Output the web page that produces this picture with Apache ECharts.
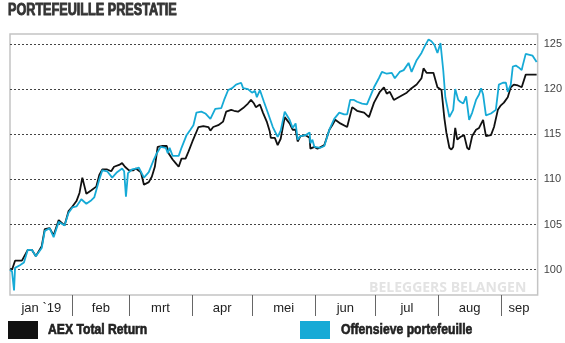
<!DOCTYPE html>
<html>
<head>
<meta charset="utf-8">
<script src="https://cdn.jsdelivr.net/npm/echarts@6/dist/echarts.min.js"></script>
<style>
html,body{margin:0;padding:0;background:#fff;}
#chart{width:565px;height:343px;}
</style>
</head>
<body>
<div id="chart"></div>
<script>
// x values: days since 1 Jan 2019
const monthNames = ['jan `19','feb','mrt','apr','mei','jun','jul','aug','sep'];
const monthStarts = [31,59,90,120,151,181,212,243];
const monthMids = [15.5,45,74.5,105,135.5,166,196.5,227.5,252];
const yTicks = [100,105,110,115,120,125];
const seriesNames = ['AEX Total Return','Offensieve portefeuille'];
const seriesColors = ['#111111','#16aad6'];

const aexDays = [0,1.0,2.5,5.9,8.8,10.8,12.8,15.7,17.2,19.6,21.6,24.1,27.0,29.0,30.9,32.9,34.4,35.8,37.8,40.3,42.7,44.2,45.7,48.1,50.1,51.5,54.0,55.5,56.9,58.9,60.9,62.3,64.8,66.3,68.7,70.2,71.7,73.1,75.6,77.6,78.5,80.5,82.0,83.5,84.9,86.9,88.4,90.3,91.8,93.3,95.7,98.2,99.2,100.6,103.1,105.5,107.0,109.5,110.9,112.9,115.4,117.8,119.3,120.8,121.7,123.7,125.2,127.1,128.6,129.1,131.1,132.5,134.0,136.0,138.4,139.9,141.4,142.4,143.8,146.3,148.3,148.7,150.7,152.2,155.6,158.1,159.5,161.0,163.5,166.9,169.4,171.8,175.3,177.7,180.2,183.1,185.1,186.5,188.0,190.0,192.4,196.4,198.8,201.3,203.7,204.7,206.2,209.6,211.6,213.6,215.0,216.0,217.5,218.5,219.4,220.4,221.4,222.9,224.8,226.3,227.3,228.8,230.7,232.2,234.2,235.6,238.1,239.6,241.5,243.0,244.5,246.4,247.9,249.4,251.4,253.3,255.3,257.7,260.7];
const aexValues = [100.1,100.0,101.0,101.0,102.2,102.2,101.5,102.6,104.5,104.6,103.8,105.5,104.9,106.5,107.0,107.6,108.5,110.2,108.4,108.8,109.2,110.5,111.1,111.1,110.9,111.4,111.6,111.8,111.4,111.0,111.0,111.2,110.8,109.4,109.7,110.3,111.4,113.6,113.7,113.7,112.9,112.2,111.8,111.4,112.3,112.3,113.1,114.2,115.0,115.8,115.9,115.8,115.4,115.8,116.0,116.4,117.5,117.7,117.6,117.5,117.9,118.4,118.8,118.4,118.0,118.3,117.4,116.4,115.3,114.6,114.6,113.8,114.5,116.9,116.2,115.5,115.5,114.2,114.8,114.9,114.6,113.4,113.6,113.4,113.8,115.5,116.0,116.6,116.2,115.8,118.0,117.6,117.4,116.9,118.5,119.7,120.2,119.5,119.7,118.8,119.1,119.6,120.1,120.5,121.2,122.3,121.8,121.8,120.2,119.9,116.8,115.2,113.5,113.3,113.6,115.7,114.4,114.7,114.9,113.5,113.3,114.8,115.5,115.7,116.6,114.8,114.9,115.8,117.7,118.2,118.5,119.1,120.2,120.5,120.4,120.2,121.6,121.6,121.6];

const offDays = [0,1.0,2.0,2.5,4.9,6.9,8.8,10.8,12.8,15.7,17.2,19.6,21.6,24.1,27.0,29.0,30.9,32.9,35.3,37.8,40.3,41.7,44.2,45.7,48.1,50.6,53.0,55.5,56.5,57.4,58.4,60.4,62.3,63.8,66.3,68.7,71.2,72.7,74.6,77.1,78.1,79.0,80.5,83.5,84.9,87.4,89.3,90.8,92.3,94.7,96.7,99.2,101.6,104.6,106.0,108.0,110.0,111.9,114.4,115.4,117.8,119.8,121.3,122.2,123.7,125.7,127.6,130.1,132.5,134.0,136.0,138.4,139.9,141.4,142.4,143.8,146.3,148.3,148.7,149.7,150.7,153.7,155.6,158.1,160.5,163.0,165.4,166.9,168.4,170.3,171.8,174.3,176.7,180.2,182.6,184.1,186.5,189.0,190.5,192.9,194.9,197.3,198.8,201.3,203.7,205.2,207.2,208.6,210.1,211.6,213.1,214.5,215.5,217.5,219.4,220.4,221.9,222.9,224.4,225.8,227.3,228.8,230.7,232.2,233.2,234.2,235.6,238.1,240.5,242.0,244.0,245.5,246.4,247.9,248.9,250.4,251.8,253.3,253.8,255.3,257.2,258.7,260.7];
const offValues = [100.0,99.8,97.7,100.2,100.5,100.8,102.2,102.2,101.5,102.4,104.3,104.6,103.6,105.3,104.9,106.3,106.9,107.0,107.8,107.3,107.7,108.0,110.0,111.0,110.9,110.2,110.8,111.2,110.9,108.1,110.7,111.1,111.2,111.3,110.2,110.8,112.2,112.9,113.6,113.5,112.9,113.5,112.6,112.6,113.5,114.9,115.5,116.0,117.4,117.5,117.3,116.7,117.8,117.9,118.8,119.9,120.1,120.5,120.7,120.1,120.0,119.6,119.8,119.1,119.9,118.6,117.4,115.8,114.7,115.4,117.5,116.6,115.7,116.2,114.4,114.8,114.9,115.2,114.0,114.4,113.6,113.5,113.7,115.5,116.7,117.4,117.2,117.2,118.8,118.8,118.6,118.4,118.3,120.2,121.2,121.9,121.7,121.8,121.2,121.9,122.1,122.9,121.9,123.2,124.0,124.7,125.5,125.3,124.9,124.0,125.1,122.0,119.1,116.9,117.7,120.0,118.8,118.6,118.4,119.2,116.6,117.4,118.8,119.4,120.1,119.4,117.1,117.3,117.7,120.5,120.7,120.7,119.7,120.5,122.5,122.6,122.4,122.1,122.6,123.9,123.8,123.7,123.0];

function zip(xs, ys){ return xs.map((x,i)=>[x, ys[i]]); }

const chart = echarts.init(document.getElementById('chart'), null, {renderer:'canvas'});
chart.setOption({
  animation:false,
  backgroundColor:'#ffffff',
  grid:{left:10, right:23, top:34, bottom:48, show:true, borderColor:'#c4c4c4', borderWidth:1.5, backgroundColor:'transparent'},
  xAxis:{
    type:'value', min:0, max:261.2,
    axisLine:{show:false},
    splitLine:{show:false},
    axisTick:{show:true, customValues:monthStarts, length:21, lineStyle:{color:'#666', width:1}},
    axisLabel:{customValues:monthMids, margin:7, fontSize:13, color:'#222',
      fontFamily:"'Liberation Sans',Arial,sans-serif",
      formatter:function(v){ const i = monthMids.indexOf(v); return i>=0 ? monthNames[i] : ''; }}
  },
  yAxis:{
    type:'value', position:'right', min:97.2, max:126.1,
    axisLine:{show:false},
    splitLine:{show:true, lineStyle:{color:'#444', type:[2,2], width:1}},
    axisTick:{show:true, customValues:yTicks, length:4, lineStyle:{color:'#444', type:[2,2]}},
    axisLabel:{customValues:yTicks, margin:6, fontSize:11, color:'#444', fontFamily:"'Liberation Sans',Arial,sans-serif"}
  },
  graphic:[
    {type:'text', x:8, y:11, scaleX:0.79, silent:true,
     style:{text:'PORTEFEUILLE PRESTATIE', fill:'#333333', stroke:'#333333', lineWidth:0.9, verticalAlign:'middle',
            font:"bold 16px 'Liberation Sans', Arial, sans-serif"}},
    {type:'text', left:369, top:281, silent:true, z:0,
     style:{text:'BELEGGERS BELANGEN', fill:'#e3e3e3', font:"bold 14px 'Open Sans', 'Liberation Sans', sans-serif"}},
    {type:'rect', shape:{x:8, y:321, width:30, height:18}, style:{fill:seriesColors[0]}, silent:true},
    {type:'text', x:48, y:330, scaleX:0.87, silent:true,
     style:{text:seriesNames[0], fill:'#222', stroke:'#222', lineWidth:0.6, verticalAlign:'middle', font:"bold 14px 'Liberation Sans', Arial, sans-serif"}},
    {type:'rect', shape:{x:300, y:321, width:30, height:18}, style:{fill:seriesColors[1]}, silent:true},
    {type:'text', x:341, y:330, scaleX:0.87, silent:true,
     style:{text:seriesNames[1], fill:'#222', stroke:'#222', lineWidth:0.6, verticalAlign:'middle', font:"bold 14px 'Liberation Sans', Arial, sans-serif"}}
  ],
  series:[
    {name:seriesNames[0], type:'line', data:zip(aexDays, aexValues), showSymbol:false,
     itemStyle:{color:seriesColors[0]}, lineStyle:{color:seriesColors[0], width:1.8}, z:3},
    {name:seriesNames[1], type:'line', data:zip(offDays, offValues), showSymbol:false,
     itemStyle:{color:seriesColors[1]}, lineStyle:{color:seriesColors[1], width:1.8}, z:4}
  ]
});
</script>
</body>
</html>
